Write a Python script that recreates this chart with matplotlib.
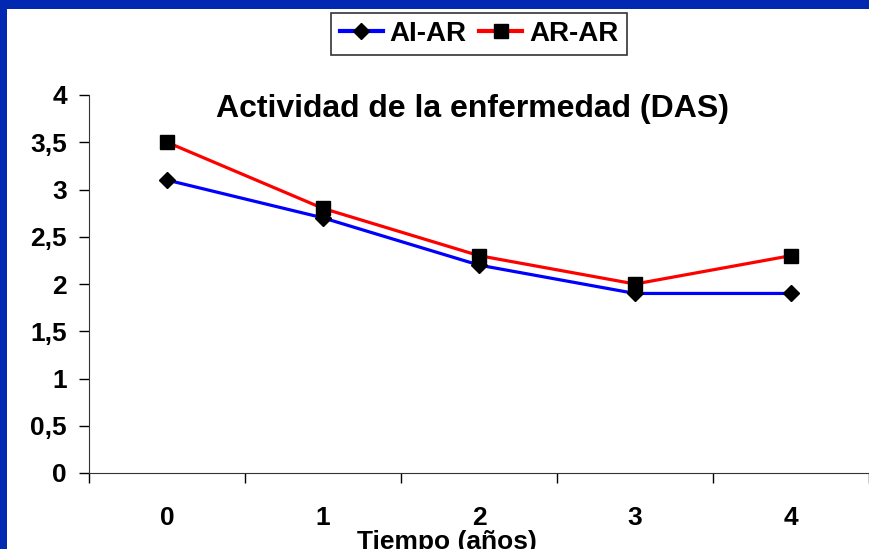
import matplotlib

matplotlib.use("Agg")
import matplotlib.pyplot as plt
from matplotlib.patches import Rectangle
from matplotlib.ticker import FixedLocator

# data
years = ["0", "1", "2", "3", "4"]
ai_ar = [3.1, 2.7, 2.2, 1.9, 1.9]
ar_ar = [3.5, 2.8, 2.3, 2.0, 2.3]
y_ticks = [0, 0.5, 1, 1.5, 2, 2.5, 3, 3.5, 4]
y_labels = ["0", "0,5", "1", "1,5", "2", "2,5", "3", "3,5", "4"]

plt.rcParams["font.family"] = ["Liberation Sans", "DejaVu Sans"]
plt.rcParams["font.weight"] = "bold"

W, H = 870, 549
fig = plt.figure(figsize=(W / 100, H / 100), dpi=100)
fig.patch.set_facecolor("#0028b0")
fig.add_artist(Rectangle((7 / W, 0), 1, 1 - 9 / H, transform=fig.transFigure,
                         facecolor="white", edgecolor="none", zorder=-1))

ax = fig.add_axes([89 / W, 1 - 473 / H, (869 - 89) / W, (473 - 95) / H])
ax.set_facecolor("none")
x = range(len(years))
ax.plot(x, ai_ar, color="#0000ff", lw=2.3, marker="D", ms=8,
        mfc="black", mec="black", label="AI-AR")
ax.plot(x, ar_ar, color="#ff0000", lw=2.3, marker="s", ms=10,
        mfc="black", mec="black", label="AR-AR")

ax.set_xlim(-0.5, len(years) - 0.5)
ax.set_ylim(0, 4)
ax.set_xticks(list(x))
ax.set_xticklabels(years, fontsize=19, fontweight="bold")
ax.xaxis.set_minor_locator(FixedLocator([i - 0.5 for i in range(len(years) + 1)]))
ax.tick_params(axis="x", which="major", length=0, pad=24)
ax.tick_params(axis="x", which="minor", length=7, direction="out", width=1)
ax.set_yticks(y_ticks)
ax.set_yticklabels(y_labels, fontsize=19, fontweight="bold")
ax.tick_params(axis="y", length=7, width=1, direction="out", pad=9)
for s in ("top", "right"):
    ax.spines[s].set_visible(False)
for s in ("left", "bottom"):
    ax.spines[s].set_color("#333333")

ax.set_xlabel("Tiempo (años)", fontsize=19, fontweight="bold")
ax.xaxis.set_label_coords((447 - 89) / (869 - 89), -(530 - 473) / (473 - 95))
fig.text(472 / W, 1 - 117 / H, "Actividad de la enfermedad (DAS)",
         ha="center", va="baseline", fontsize=23, fontweight="bold")

leg = fig.legend(loc="center", bbox_to_anchor=(479 / W, 1 - 34 / H), ncol=2,
                 frameon=True, fancybox=False, edgecolor="black",
                 prop={"size": 20, "weight": "bold"}, handlelength=1.55,
                 handletextpad=0.25, columnspacing=0.45, borderpad=0.3,
                 borderaxespad=0, markerscale=1.0)
leg.get_frame().set_linewidth(1.2)
for line in leg.get_lines():
    line.set_linewidth(3)

fig.savefig("out.png", dpi=100, facecolor=fig.get_facecolor())
